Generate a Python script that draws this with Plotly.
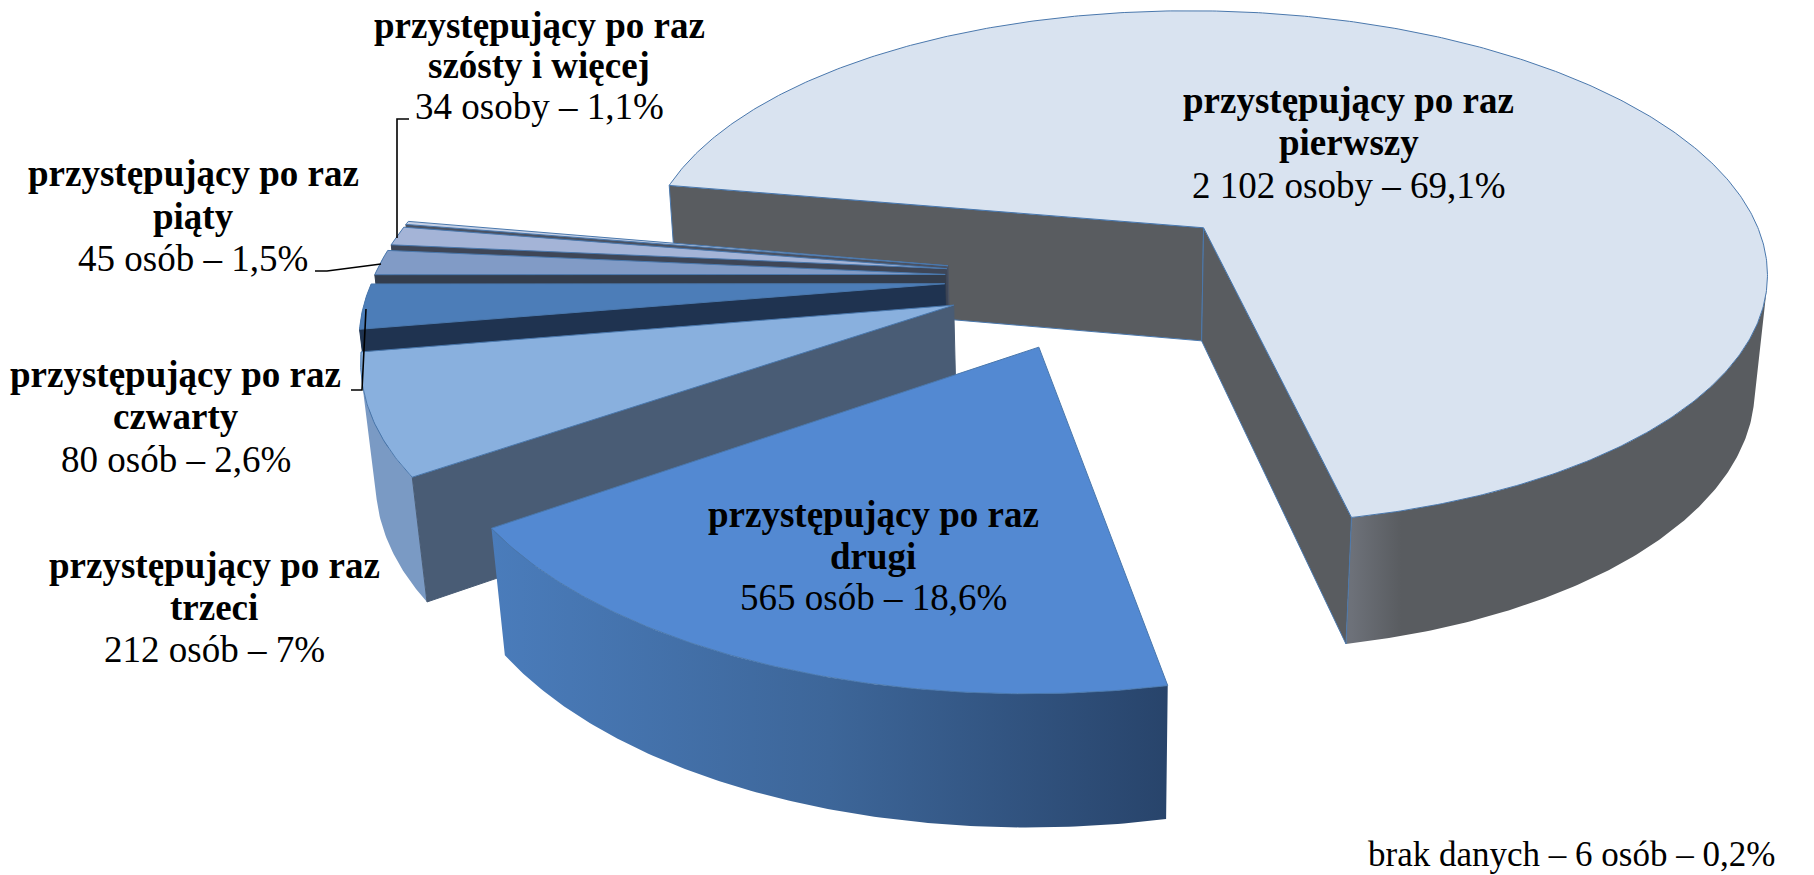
import numpy as np
import plotly.graph_objects as go

# ---- data ----
LABELS = ["pierwszy", "drugi", "trzeci", "czwarty", "piąty", "szósty i więcej", "brak danych"]
COUNTS = [2102, 565, 212, 80, 45, 34, 6]
PERCENTS = ["69,1%", "18,6%", "7%", "2,6%", "1,5%", "1,1%", "0,2%"]
COUNT_TEXT = ["2 102 osoby", "565 osób", "212 osób", "80 osób", "45 osób", "34 osoby", "6 osób"]

TOP_COLORS = ["#d9e3f0", "#5389d2", "#89b0de", "#4c7db8", "#819bc6", "#a4b4d7", "#c5d0e5"]
WALL_COLORS = ["#595c60", None, "#495c75", "#1f3350", "#333d4d", "#3e4657", "#4a5263"]
RIM_STOPS = [
    [(0, "#6d7179"), (0.12, "#595c60"), (1, "#595c60")],
    [(0, "#4a7cbb"), (0.5, "#3d6699"), (1, "#28446b")],
    [(0, "#7a9ac4"), (1, "#7a9ac4")],
    [(0, "#3f6a9f"), (1, "#3f6a9f")],
    [(0, "#6f86ab"), (1, "#6f86ab")],
    [(0, "#8a9ab8"), (1, "#8a9ab8")],
    [(0, "#a7b3c8"), (1, "#a7b3c8")],
]
EDGE = "#4a78ad"

# ---- pie geometry (screen scale S maps the shrunk view to full pixels) ----
S = 1814 / 1568
START = -80.0
EXPLODE = 0.27
CX, HORIZON, A, W, D0 = 950 * S, -1202 * S, 9033 * S, 3094 * S, 6.264
HEIGHT = 0.233
TILT = np.arcsin(A / (D0 * W))
CAM_Y = -np.cos(TILT) ** 2 * D0  # ground position of the camera


def project(X, Y, Z=0.0):
    X, Y = np.asarray(X, float), np.asarray(Y, float)
    c, s = np.cos(TILT), np.sin(TILT)
    f = W * c
    zc = c * (Y + D0) - Z * s
    yc = Y * s + Z * c
    return CX + f * X / zc, HORIZON + f * np.tan(TILT) - f * yc / zc


def rim_range(a0, a1, ox, oy):
    """Bearings of the slice's rim that face the camera (clips at the silhouette)."""
    t = np.linspace(a0, a1, 2000)
    r = np.radians(t)
    facing = (CAM_Y - oy) * np.cos(r) - ox * np.sin(r) - 1 > 0
    return (t[facing][0], t[facing][-1]) if facing.any() else (a0, a1)


total = sum(COUNTS)
spans = [c / total * 360 for c in COUNTS]
starts = START + np.concatenate([[0], np.cumsum(spans)[:-1]])

fig = go.Figure()


def poly(x, y, color, line=EDGE, lw=1, grad=None):
    kw = dict(fillgradient=grad) if grad else dict(fillcolor=color)
    fig.add_trace(go.Scatter(x=list(x) + [x[0]], y=list(y) + [y[0]], mode="lines", fill="toself",
                             line=dict(color=line, width=lw), hoverinfo="skip", showlegend=False, **kw))


def arc(a0, a1, ox, oy):
    t = np.radians(np.linspace(a0, a1, max(4, int(abs(a1 - a0) * 2))))
    return ox + np.sin(t), oy + np.cos(t)


def draw_slice(i):
    a0 = starts[i]
    a1 = a0 + spans[i]
    mid = np.radians((a0 + a1) / 2)
    ox, oy = EXPLODE * np.sin(mid), EXPLODE * np.cos(mid)
    ax, ay = arc(a0, a1, ox, oy)
    tx, ty = project(ax, ay, 0.0)
    # rim: the part that faces the viewer (the thinnest slices keep their whole sliver)
    r0, r1 = rim_range(a0, a1, ox, oy) if i < 3 else (a0, a1)
    rx, ry = arc(r0, r1, ox, oy)
    rtx, rty = project(rx, ry, 0.0)
    rbx, rby = project(rx, ry, -HEIGHT)
    px, py = list(rtx) + list(rbx[::-1]), list(rty) + list(rby[::-1])
    lo, hi = min(px), max(px)
    if i == 0:
        lo = rtx[-1]
    poly(px, py, RIM_STOPS[i][0][1], line="rgba(0,0,0,0)", lw=0,
         grad=dict(type="horizontal", start=lo, stop=hi, colorscale=[[a, b] for a, b in RIM_STOPS[i]]))
    # radial walls
    for edge_angle, is_start in ((a0, True), (a1, False)):
        if WALL_COLORS[i] is None:
            continue
        if i != 0 and not is_start:
            continue
        ex, ey = ox + np.sin(np.radians(edge_angle)), oy + np.cos(np.radians(edge_angle))
        wx, wy = np.array([ox, ex]), np.array([oy, ey])
        wtx, wty = project(wx, wy, 0.0)
        wbx, wby = project(wx, wy, -HEIGHT)
        poly(list(wtx) + list(wbx[::-1]), list(wty) + list(wby[::-1]), WALL_COLORS[i],
             line=EDGE if i == 0 else WALL_COLORS[i])
    # top
    cx0, cy0 = project([ox], [oy], 0.0)
    poly([cx0[0]] + list(tx), [cy0[0]] + list(ty), TOP_COLORS[i])


for idx in [0, 6, 5, 4, 3, 2, 1]:
    draw_slice(idx)

# ---- leader lines ----
LEADERS = [
    ([409, 397, 397], [119, 119, 238]),
    ([315, 327, 381], [271, 271, 264]),
    ([351, 362, 366], [390, 390, 309]),
]
for lx, ly in LEADERS:
    fig.add_trace(go.Scatter(x=lx, y=ly, mode="lines", line=dict(color="black", width=1.6),
                             hoverinfo="skip", showlegend=False))

# ---- labels ----
FONT = "Liberation Serif"
FS = 37
HEAD = "przystępujący po raz"
LABEL_POS = [(1166, 87), (755, 445), (185, 489), (152, 324), (167, 150), (466, 22)]
LINE_GAPS = [36.6, 35.6, 36.4, 36.4, 36.8, 35.0]


def text(x, y, s, bold=False, size=FS):
    fig.add_annotation(x=x, y=y, text=f"<b>{s}</b>" if bold else s, showarrow=False, xanchor="center",
                       yanchor="middle", font=dict(family=FONT, size=size, color="black"))


for i, (lx, ly) in enumerate(LABEL_POS):
    gap = LINE_GAPS[i]
    text(lx * S, ly * S, HEAD, True)
    text(lx * S, (ly + gap) * S, LABELS[i], True)
    text(lx * S, (ly + 2 * gap) * S, f"{COUNT_TEXT[i]} – {PERCENTS[i]}")
text(1358 * S, 854, f"{LABELS[6]} – {COUNT_TEXT[6]} – {PERCENTS[6]}", size=35)

fig.update_layout(width=1814, height=875, margin=dict(l=0, r=0, t=0, b=0),
                  paper_bgcolor="white", plot_bgcolor="white",
                  xaxis=dict(range=[0, 1814], visible=False, fixedrange=True),
                  yaxis=dict(range=[875, 0], visible=False, fixedrange=True))
fig.write_html("out.html", config=dict(displayModeBar=False), post_script="document.body.style.margin='0';")
